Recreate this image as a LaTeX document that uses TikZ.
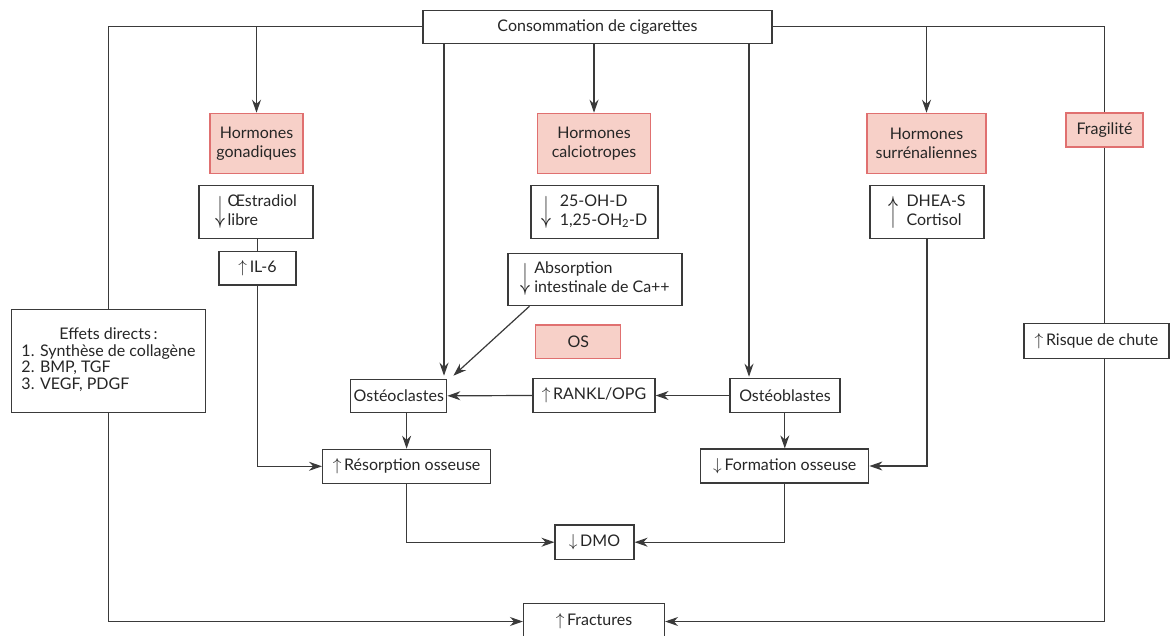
\documentclass[tikz,border=0pt]{standalone}
\usepackage{fontspec}
\setmainfont{Lato}
\usepackage{graphicx}
\usetikzlibrary{arrows.meta}
\definecolor{linec}{HTML}{3A3A3A}
\definecolor{txt}{HTML}{262626}
\definecolor{pinkf}{HTML}{F7D0C8}
\definecolor{pinkd}{HTML}{E07070}
\newcommand{\dnarr}{$\vcenter{\hbox{\scalebox{1.15}[2.1]{$\downarrow$}}}$}
\newcommand{\uparr}{$\vcenter{\hbox{\scalebox{1.15}[2.1]{$\uparrow$}}}$}
\newcommand{\twol}[1]{$\vcenter{\hbox{\begin{tabular}{@{}l@{}}#1\end{tabular}}}$}
\begin{document}
\begin{tikzpicture}[x=1pt,y=-1pt,
  box/.style={draw=linec, line width=1.2pt, fill=white, text=txt, inner sep=0pt, align=center, font=\fontsize{16}{19}\selectfont},
  hbox/.style={box, draw=pinkd, fill=pinkf},
  arr/.style={draw=linec, line width=1.2pt, -{Stealth[length=13pt,width=9pt]}},
  ln/.style={draw=linec, line width=1.2pt}]
\useasboundingbox[fill=white] (0,0) rectangle (1175,635);
% nodes
\node[box, minimum width=349, minimum height=33] (top) at (597.5,26.7) {Consommation de cigarettes};
\node[hbox, minimum width=93, minimum height=60] (gon) at (256.5,143.3) {Hormones\\gonadiques};
\node[hbox, minimum width=113, minimum height=60] (calc) at (594,143.3) {Hormones\\calciotropes};
\node[hbox, minimum width=119, minimum height=60] (surr) at (926.5,143.3) {Hormones\\surrénaliennes};
\node[hbox, minimum width=77, minimum height=34] (frag) at (1104.5,130) {Fragilité};
\node[box, minimum width=114, minimum height=53.4] (oes) at (256,212) {\dnarr\,\twol{Œstradiol\\libre}};
\node[box, minimum width=127, minimum height=53.4] (ohd) at (594.5,212) {\dnarr\ \ \twol{25-OH-D\\1,25-OH\textsubscript{2}-D}};
\node[box, minimum width=114, minimum height=53.4] (dhea) at (927,212) {\uparr\ \ \twol{DHEA-S\\Cortisol}};
\node[box, minimum width=77, minimum height=33.3] (il6) at (257.5,268.3) {$\uparrow$\,IL-6};
\node[box, minimum width=174, minimum height=52.4] (abs) at (595,279.5) {\dnarr\ \twol{Absorption\\intestinale de Ca++}};
\node[hbox, minimum width=85, minimum height=33.3] (os) at (578.3,341.7) {OS};
\node[box, minimum width=145, minimum height=35] (risk) at (1096.5,340.8) {$\uparrow$\,Risque de chute};
\node[box, minimum width=194, minimum height=102.3, font=\fontsize{16}{16.5}\selectfont] (eff) at (108.5,361) {\begin{tabular}{@{}l@{}}\multicolumn{1}{@{}c@{}}{Effets directs\,:}\\1. Synthèse de collagène\\2. BMP, TGF\\3. VEGF, PDGF\end{tabular}};
\node[box, minimum width=96, minimum height=33] (ocl) at (398.8,395.8) {Ostéoclastes};
\node[box, minimum width=122, minimum height=34.4] (rank) at (594,395.5) {$\uparrow$\,RANKL/OPG};
\node[box, minimum width=110, minimum height=34.4] (obl) at (785,395.5) {Ostéoblastes};
\node[box, minimum width=168, minimum height=34] (res) at (406.6,466.3) {$\uparrow$\,Résorption osseuse};
\node[box, minimum width=168, minimum height=34] (form) at (784.8,466) {$\downarrow$\,Formation osseuse};
\node[box, minimum width=79, minimum height=34.3] (dmo) at (594.5,542.2) {$\downarrow$\,DMO};
\node[box, minimum width=141, minimum height=36] (frac) at (594,621.5) {$\uparrow$\,Fractures};
% connectors
\coordinate (c1) at (444,0);
\coordinate (c2) at (749,0);
\draw[ln] (top.west) -| (eff.north);
\draw[arr] (eff.south) |- (frac.west);
\draw[ln] (top.east) -| (frag.north);
\draw[ln] (frag.south) -- (frag.south |- risk.north);
\draw[arr] (frag.south |- risk.south) |- (frac.east);
\draw[arr] (gon.north |- top.west) -- (gon.north);
\draw[arr] (surr.north |- top.east) -- (surr.north);
\draw[arr] (calc.north |- top.south) -- (calc.north);
\draw[arr] (c1 |- top.south) -- ([yshift=3pt]c1 |- ocl.north);
\draw[arr] (c2 |- top.south) -- ([yshift=1pt]c2 |- obl.north);
\draw[arr] ([xshift=22pt]abs.south west) -- ([xshift=6pt,yshift=3pt]ocl.north east);
\draw[arr] (rank.west) -- (ocl.east);
\draw[arr] (obl.west) -- (rank.east);
\draw[arr] (res.north |- ocl.south) -- (res.north);
\draw[arr] (form.north |- obl.south) -- (form.north);
\draw[ln] (il6.north |- oes.south) -- (il6.north);
\draw[arr] (il6.south) |- (res.west);
\draw[arr] (dhea.south) |- (form.east);
\draw[arr] (res.south) |- (dmo.west);
\draw[arr] (form.south) |- (dmo.east);
\end{tikzpicture}
\end{document}
